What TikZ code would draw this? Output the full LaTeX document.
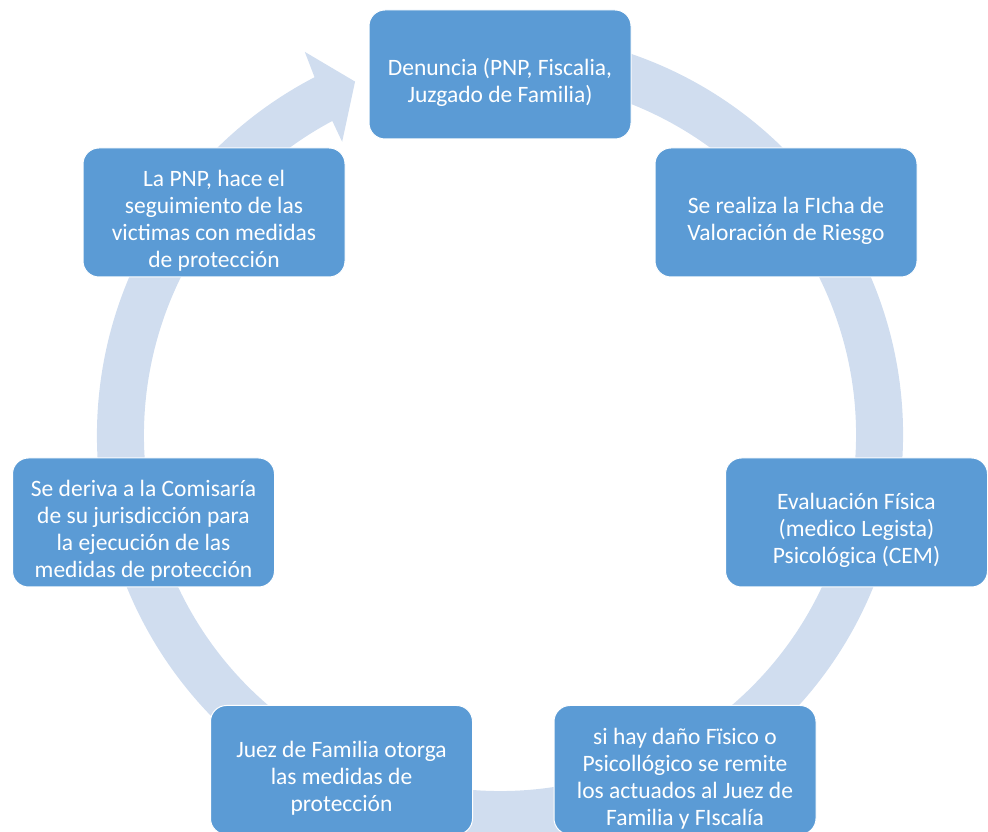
\documentclass[tikz,border=0pt]{standalone}
\usepackage{fontspec}
\setmainfont{Carlito}
\usepackage{xcolor}
\usepackage{tikz}
\usetikzlibrary{calc}

\definecolor{boxblue}{RGB}{91,155,213}
\definecolor{ringblue}{RGB}{208,221,239}
\newcommand{\topgap}{\rule{0pt}{33pt}}

\begin{document}
\begin{tikzpicture}[x=1pt,y=1pt]
                \tikzstyle{stepbox}=[fill=boxblue, draw=white, line width=1pt, rounded corners=16pt,
                    minimum width=262pt, minimum height=129pt, inner sep=0pt, align=center,
                    text=white, font=\fontsize{23.5}{27}\selectfont]
                \tikzstyle{ring}=[fill=ringblue]
                \useasboundingbox (0,0) rectangle (988,832);
                \clip (0,0) rectangle (988,832);
                \coordinate (c) at (500,397);
                % the cycle arrow
                \fill [ring] ($(c)+(80:403)$) arc (80:-242.6:403pt)
                    -- ($(c)+(-243:430)$) -- ($(c)+(-247.7:382)$) -- ($(c)+(-241.7:333)$)
                    -- ($(c)+(-241.9:356)$) arc (-241.9:80:356pt) -- cycle;
                % the steps
                \node [stepbox] (denuncia) at (500,757.5) {\topgap Denuncia (PNP, Fiscalia,\\Juzgado de Familia)};
                \node [stepbox] (ficha) at (786,619.5) {\topgap Se realiza la FIcha de\\Valoración de Riesgo};
                \node [stepbox] (evaluacion) at (856.5,309.5) {\topgap Evaluación Física\\(medico Legista)\\Psicológica (CEM)};
                \node [stepbox] (dano) at (685,62) {\topgap si hay daño Fïsico o\\Psicollógico se remite\\los actuados al Juez de\\Familia y FIscalía};
                \node [stepbox] (juez) at (341.5,62) {\topgap Juez de Familia otorga\\las medidas de\\protección};
                \node [stepbox] (deriva) at (143.5,309.5) {\topgap Se deriva a la Comisaría\\de su jurisdicción para\\la ejecución de las\\medidas de protección};
                \node [stepbox] (seguimiento) at (214,619.5) {\topgap La PNP, hace el\\seguimiento de las\\victimas con medidas\\de protección};
            \end{tikzpicture}
\end{document}
